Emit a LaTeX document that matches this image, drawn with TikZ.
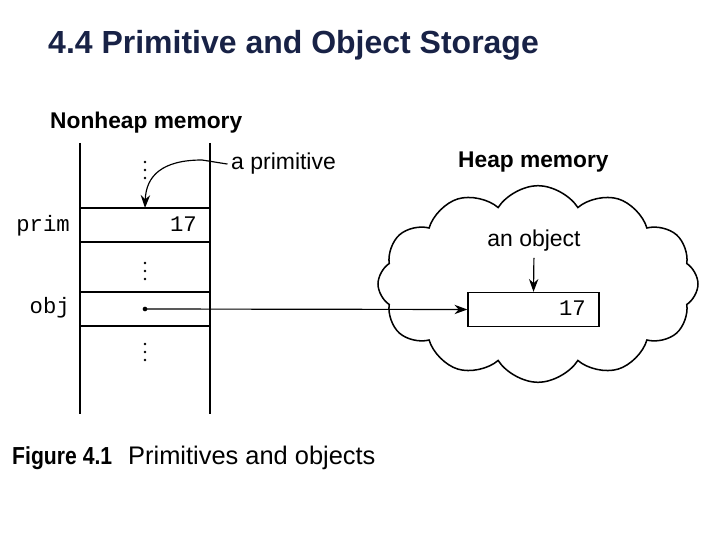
\documentclass[tikz,border=0pt]{standalone}
\usepackage{fontspec}
\setmainfont{Liberation Sans}
\setmonofont{Liberation Mono}
\usetikzlibrary{arrows.meta,shapes.symbols,positioning}
\definecolor{titleblue}{RGB}{24,34,70}

\tikzset{
	wall/.style={line width=2.4pt},
	slot/.style={line width=1.1pt},
	head/.style={inner sep=0pt, font=\bfseries\fontsize{19.4}{23}\selectfont},
	lbl/.style={inner sep=0pt, font=\fontsize{19.6}{23}\selectfont},
	code/.style={inner sep=0pt, font=\ttfamily\fontsize{19}{22}\selectfont},
	ptr/.style={line width=1pt, -{Stealth[length=11pt,width=8pt]}},
}

\begin{document}
\begin{tikzpicture}[x=0.03cm, y=-0.03cm]
		%%%%% START %%%%%
		\useasboundingbox (0, 0) rectangle (720, 540);
		
		\node[anchor=base west, inner sep=0pt, text=titleblue, font=\bfseries\fontsize{27.3}{31}\selectfont] (title) at (48, 54) {4.4 Primitive and Object Storage};
		
		%% nonheap memory
		\node[head, anchor=base west] (nonheap) at (50, 129) {Nonheap memory};
		\draw[wall] (80, 143) -- (80, 414);
		\draw[wall] (210, 143) -- (210, 414);
		\foreach \y in {208, 242, 292, 326}
			\draw[slot] (80, \y) -- (210, \y);
		\foreach \y in {162, 170, 178, 263, 271, 279, 344, 352, 360}
			\fill (145, \y) circle (1.2pt);
		
		\node[code, anchor=base east] (prim) at (70, 232) {prim};
		\node[code, anchor=base east] (primval) at (197, 232) {17};
		\node[code, anchor=base east] (obj) at (70, 314) {obj};
		\coordinate (objref) at (145, 309);
		\coordinate (primtop) at (145, 208);
		\fill (objref) circle (2pt);
		
		\node[lbl, anchor=base west] (aprim) at (231, 170) {a primitive};
		\draw[ptr] ([xshift=-3pt]aprim.west) -- (202, 160) .. controls (162, 160) and (146, 176) .. (primtop);
		
		%% heap memory
		\node[head, anchor=base west] (heap) at (458, 168) {Heap memory};
		\node[cloud, draw, line width=1.3pt, cloud puffs=12, cloud puff arc=115, minimum width=9.6cm, minimum height=5.9cm] (cloud) at (538, 284) {};
		\node[draw, slot, minimum width=3.93cm, minimum height=1.02cm] (objbox) at (533.5, 309.5) {};
		\node[code, anchor=base east] (objval) at (586, 316) {17};
		\node[lbl, anchor=base] (anobj) at (534, 247) {an object};
		\draw[ptr, shorten <=5pt] (anobj.south) -- (objbox.north);
		\draw[ptr] (objref) -- (objbox.west);
		
		%% caption
		\node[anchor=base west, inner sep=0pt, font=\bfseries\fontsize{21}{25}\selectfont\addfontfeature{FakeStretch=0.86}] (figno) at (12, 464) {Figure 4.1};
		\node[anchor=base west, inner sep=0pt, font=\fontsize{21.7}{25}\selectfont] (figcap) at (128, 464) {Primitives and objects};
		%%%%% END %%%%%
\end{tikzpicture}
\end{document}
